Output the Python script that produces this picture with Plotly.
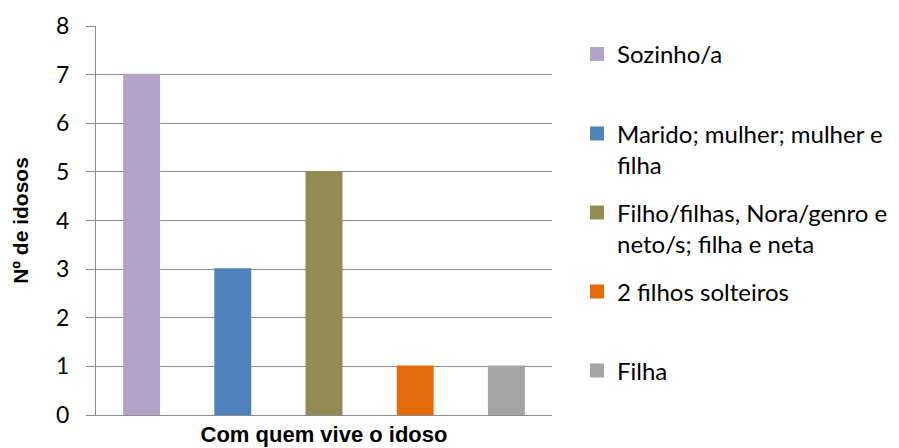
import plotly.graph_objects as go

categories = ["Sozinho/a", "Marido; mulher; mulher e<br>filha",
              "Filho/filhas, Nora/genro e<br>neto/s; filha e neta",
              "2 filhos solteiros", "Filha"]
values = [7, 3, 5, 1, 1]
colors = ["#B3A2C7", "#4F81BD", "#948A54", "#E46C0A", "#A5A5A5"]
y_ticks = [0, 1, 2, 3, 4, 5, 6, 7, 8]

L, R, T, B = 96, 552, 26, 415
W, H = 899, 448

fig = go.Figure()
legend_names = ["legend", "legend2", "legend3", "legend4", "legend5"]
for i, (c, v, col) in enumerate(zip(categories, values, colors)):
    fig.add_trace(go.Bar(
        x=[c], y=[v], name=c,
        marker=dict(color=col, line=dict(color=col, width=2)),
        legend=legend_names[i],
        width=0.383,
    ))

grid = "#8C8C8C"
font_leg = dict(family="Lato, Calibri, sans-serif", size=24, color="#000000")

layout_legends = {}
marker_centers = [53.5, 133, 212, 291, 370]
for i, name in enumerate(legend_names):
    py = marker_centers[i] - 21.5
    layout_legends[name] = dict(
        xref="container", yref="container",
        x=577 / W, xanchor="left",
        y=1 - py / H, yanchor="top",
        font=font_leg, valign="top",
        bgcolor="rgba(0,0,0,0)", borderwidth=0,
        itemclick=False, itemdoubleclick=False,
    )

fig.update_layout(
    width=W, height=H,
    margin=dict(l=L, r=W - R, t=T, b=H - B, pad=0, autoexpand=False),
    paper_bgcolor="white", plot_bgcolor="white",
    barmode="relative",
    showlegend=True,
    font=dict(family="Lato, Calibri, sans-serif", size=23, color="#000000"),
    **layout_legends,
)
fig.update_xaxes(
    type="category", categoryorder="array", categoryarray=categories,
    showticklabels=False, ticks="",
    showline=True, linecolor=grid, linewidth=1,
    showgrid=False, zeroline=False,
    range=[-0.5, 4.5],
    title=dict(text="<b>Com quem vive o idoso</b>",
               font=dict(family="Liberation Sans, Arial, sans-serif", size=22, color="#000000"),
               standoff=11),
)
fig.update_yaxes(
    range=[0, 8], tickvals=y_ticks, ticktext=[str(t) for t in y_ticks],
    ticks="outside", ticklen=9, tickcolor=grid, tickwidth=1,
    ticklabelstandoff=12,
    showline=True, linecolor=grid, linewidth=1,
    showgrid=True, gridcolor=grid, gridwidth=1,
    zeroline=False,
    tickfont=dict(family="Lato, Calibri, sans-serif", size=23, color="#000000"),
    title=dict(text="<b>Nº de idosos</b>",
               font=dict(family="Liberation Sans, Arial, sans-serif", size=21, color="#000000"),
               standoff=21),
)
fig.write_html("out.html", config={"displayModeBar": False},
               post_script="document.body.style.margin='0px';document.body.style.overflow='hidden';")
